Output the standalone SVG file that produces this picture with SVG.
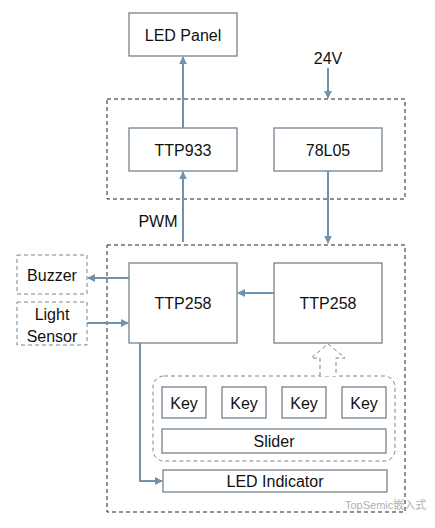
<svg xmlns="http://www.w3.org/2000/svg" width="435" height="528" viewBox="0 0 435 528">
<defs>
<style>
.box{fill:#fff;stroke:#6a7884;stroke-width:1.2}
.dbox{fill:none;stroke:#222;stroke-width:1;stroke-dasharray:4 3}
.gbox{fill:#fff;stroke:#7a8590;stroke-width:1;stroke-dasharray:4 3}
.t{font-family:"Liberation Sans",Arial,sans-serif;font-size:16px;fill:#111;text-anchor:middle}
.c{fill:none;stroke:#6f93ad;stroke-width:2}
</style>
<marker id="ah" viewBox="0 0 10 10" refX="9" refY="5" markerWidth="4" markerHeight="4" orient="auto" markerUnits="strokeWidth">
<path d="M0,0 L10,5 L0,10 z" fill="#6f93ad"/>
</marker>
</defs>
<rect width="435" height="528" fill="#fff"/>
<g id="group-top"><rect class="dbox" x="107" y="99" width="298" height="100"/></g>
<g id="group-bottom"><rect class="dbox" x="107" y="245" width="298" height="267"/></g>
<g id="led-panel"><rect class="box" x="129" y="13" width="108" height="43"/><text class="t" x="183" y="41">LED Panel</text></g>
<g id="ttp933"><rect class="box" x="129" y="128" width="108" height="43"/><text class="t" x="183" y="156">TTP933</text></g>
<g id="l7805"><rect class="box" x="274" y="128" width="108" height="43"/><text class="t" x="328" y="156">78L05</text></g>
<g id="label-24v"><text class="t" x="328" y="64">24V</text></g>
<g id="label-pwm"><text class="t" x="158" y="227">PWM</text></g>
<g id="ttp258-left"><rect class="box" x="129" y="263" width="108" height="80"/><text class="t" x="183" y="309">TTP258</text></g>
<g id="ttp258-right"><rect class="box" x="274" y="263" width="108" height="80"/><text class="t" x="328" y="309">TTP258</text></g>
<g id="buzzer"><rect class="gbox" x="17" y="255" width="70" height="39"/><text class="t" x="52" y="281">Buzzer</text></g>
<g id="light-sensor"><rect class="gbox" x="17" y="302" width="70" height="43"/><text class="t" x="52" y="320">Light</text><text class="t" x="52" y="342">Sensor</text></g>
<g id="touch-group"><rect class="gbox" x="153" y="376" width="242" height="85" rx="11"/></g>
<g id="key1"><rect class="box" x="162" y="387" width="44" height="31"/><text class="t" x="184" y="409">Key</text></g>
<g id="key2"><rect class="box" x="222" y="387" width="44" height="31"/><text class="t" x="244" y="409">Key</text></g>
<g id="key3"><rect class="box" x="282" y="387" width="44" height="31"/><text class="t" x="304" y="409">Key</text></g>
<g id="key4"><rect class="box" x="342" y="387" width="44" height="31"/><text class="t" x="364" y="409">Key</text></g>
<g id="slider"><rect class="box" x="162" y="429" width="224" height="24"/><text class="t" x="274" y="447">Slider</text></g>
<g id="led-indicator"><rect class="box" x="163" y="470" width="224" height="22"/><text class="t" x="275" y="487">LED Indicator</text></g>
<g id="connectors">
<line class="c" x1="183" y1="128" x2="183" y2="57" marker-end="url(#ah)"/>
<line class="c" x1="183" y1="242" x2="183" y2="172" marker-end="url(#ah)"/>
<line class="c" x1="328" y1="68" x2="328" y2="98" marker-end="url(#ah)"/>
<line class="c" x1="328" y1="171" x2="328" y2="243" marker-end="url(#ah)"/>
<line class="c" x1="129" y1="278" x2="88" y2="278" marker-end="url(#ah)"/>
<line class="c" x1="87" y1="323" x2="128" y2="323" marker-end="url(#ah)"/>
<line class="c" x1="274" y1="293" x2="238" y2="293" marker-end="url(#ah)"/>
<polyline class="c" points="140,343 140,481 162,481" marker-end="url(#ah)"/>
<path d="M320,376 L320,358 L311,358 L328,344 L345,358 L336,358 L336,376" fill="#fff" stroke="#7a8590" stroke-width="1" stroke-dasharray="4 3"/>
</g>
<g id="watermark"><text x="345" y="509" font-family="'Liberation Sans','Noto Sans CJK SC',sans-serif" font-size="11" fill="#b0b0b0">TopSemic嵌入式</text></g>
</svg>
